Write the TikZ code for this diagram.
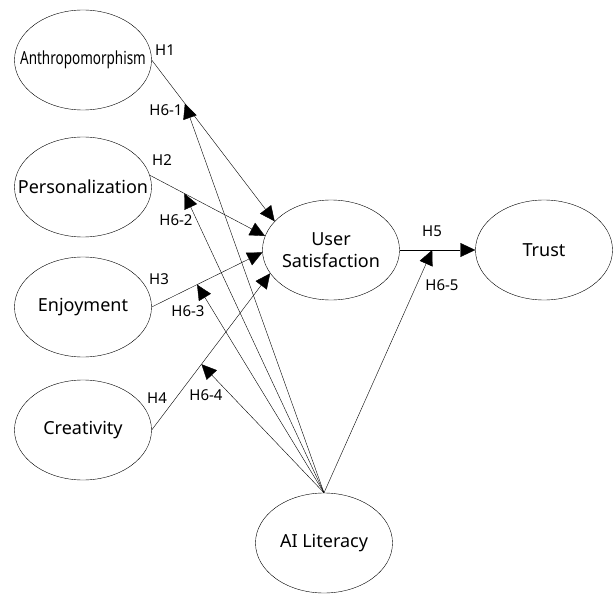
\documentclass[tikz,border=0pt]{standalone}
\usepackage{fontspec}
\setmainfont{Noto Sans}
\usetikzlibrary{arrows.meta,shapes.geometric}
\tikzset{
  construct/.style={ellipse,draw,thin,inner sep=0pt,minimum width=137pt,minimum height=100pt,
    label={[align=center,inner sep=0pt,font=\fontsize{18}{22}\selectfont]center:#1}},
  hyp/.style={-{Triangle[length=15pt,width=14pt]},thin},
  hlabel/.style={inner sep=0pt,font=\fontsize{15}{18}\selectfont}
}
\begin{document}
\begin{tikzpicture}
    [x=1pt,y=-1pt]
    \useasboundingbox (0,0) rectangle (613,596);
    \node (anth) at (83, 60) [construct={\scalebox{0.75}[1]{Anthropomorphism}}] {};
    \node (pers) at (83, 187) [construct=Personalization] {};
    \node (enj) at (83, 307) [construct=Enjoyment] {};
    \node (cre) at (83, 430) [construct=Creativity] {};
    \node (us) at (331, 250) [construct={User\\Satisfaction}] {};
    \node (tr) at (544, 250) [construct=Trust] {};
    \node (ail) at (324, 543) [construct={AI Literacy}] {};
    % direct paths
    \draw [hyp] (anth.east) -- coordinate[pos=0.27] (m1) (us.153);
    \draw [hyp] (pers.10) -- coordinate[pos=0.3] (m2) (us.168);
    \draw [hyp] (enj.east) -- coordinate[pos=0.41] (m3) (us.182);
    \draw [hyp] (cre.east) -- coordinate[pos=0.42] (m4) (us.201);
    \draw [hyp] (us.east) -- coordinate[pos=0.43] (m5) (tr.west);
    % moderation by AI literacy
    \draw [hyp] (ail.north) -- (m1);
    \draw [hyp] (ail.north) -- (m2);
    \draw [hyp] (ail.north) -- (m3);
    \draw [hyp] (ail.north) -- (m4);
    \draw [hyp] (ail.north) -- (m5);
    % labels
    \node (lh1) at (165, 50) [hlabel] {H1};
    \node (lh2) at (162, 160) [hlabel] {H2};
    \node (lh3) at (159, 279) [hlabel] {H3};
    \node (lh4) at (157, 398) [hlabel] {H4};
    \node (lh5) at (432, 231) [hlabel] {H5};
    \node (lh61) at (166, 110) [hlabel] {H6-1};
    \node (lh62) at (176, 220) [hlabel] {H6-2};
    \node (lh63) at (188, 311) [hlabel] {H6-3};
    \node (lh64) at (206, 395) [hlabel] {H6-4};
    \node (lh65) at (442, 285) [hlabel] {H6-5};
\end{tikzpicture}
\end{document}
